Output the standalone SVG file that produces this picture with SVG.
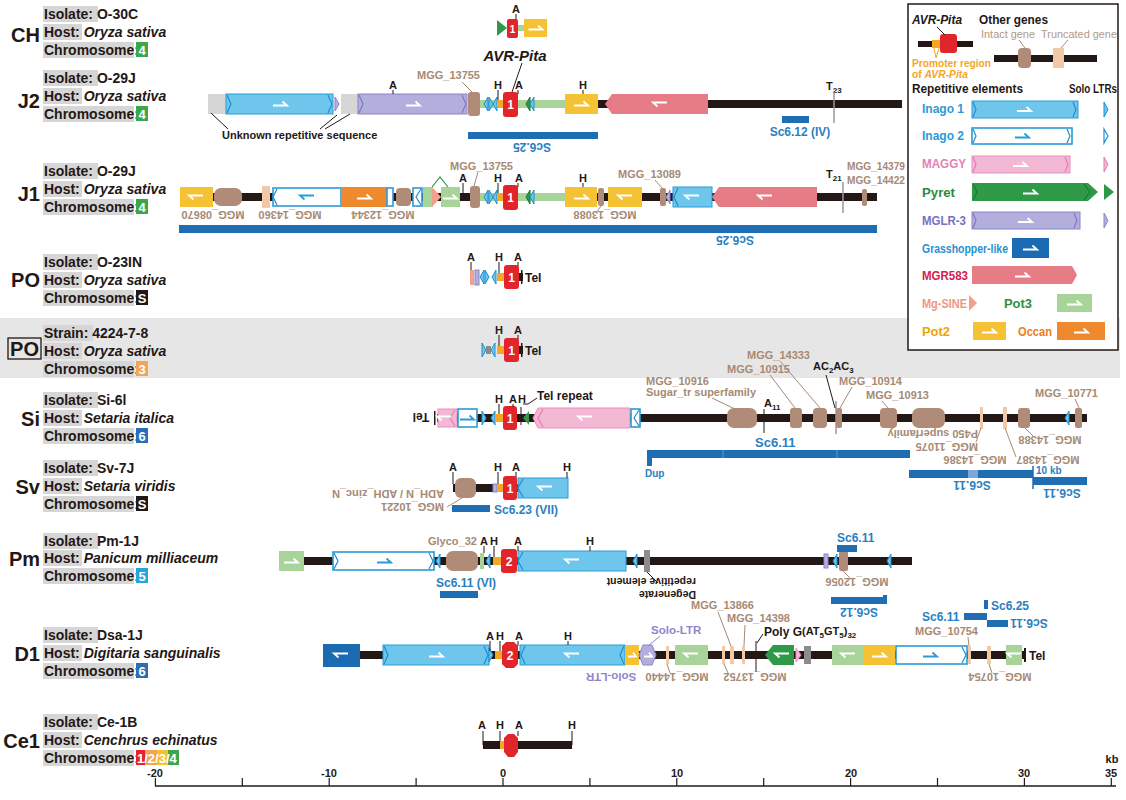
<svg xmlns="http://www.w3.org/2000/svg" width="1126" height="800" viewBox="0 0 1126 800">
<style>
text{font-family:"Liberation Sans",Arial,sans-serif}
.lab{font-size:14px;font-weight:bold;fill:#231815}
.hl{fill:#d6d6d6}
.row{font-size:20px;font-weight:bold;fill:#231815;text-anchor:end}
.k{font-size:11px;font-weight:bold;fill:#231815}
.km{font-size:11px;font-weight:bold;fill:#231815;text-anchor:middle}
.g{font-size:11px;font-weight:bold;fill:#a68a74}
.gm{font-size:11px;font-weight:bold;fill:#a68a74;text-anchor:middle}
.s{font-size:12px;font-weight:bold;fill:#2a7fc2}
.sm{font-size:12px;font-weight:bold;fill:#2a7fc2;text-anchor:middle}
.lg-t{font-size:12px;font-weight:bold}
.ln{fill:#231815}
.i1{fill:#6ec6ec;stroke:#2b9ad6;stroke-width:1}
.i2{fill:#fff;stroke:#2b9ad6;stroke-width:1.6}
.mg{fill:#f2b8d4;stroke:#ea8fbf;stroke-width:1}
.py{fill:#2e9a48}
.ml{fill:#b2afdc;stroke:#8a84c8;stroke-width:1}
.gh{fill:#1b6bb3}
.mr{fill:#e57c86}
.ms{fill:#f1a08a}
.p3{fill:#a8d49a}
.p2{fill:#f4c232}
.oc{fill:#ee8a2d}
.gi{fill:#b08c78}
.gt{fill:#f2c9a7}
.gy{fill:#d6d6d6}
.dg{fill:#8c8c8c}
.av{fill:#e2242b}
.pr{fill:#f5a623}
.bar{fill:#1f6db3}
.ch{fill:none;stroke:#1e8fd0;stroke-width:1.2}
.chm{fill:none;stroke:#7f78c2;stroke-width:1.2}
.chp{fill:none;stroke:#e27fb3;stroke-width:1.2}
.lt{fill:#6ec6ec;stroke:#1e8fd0;stroke-width:1}
.ltg{fill:#2e9a48;stroke:#1f7a35;stroke-width:1}
.lk{stroke:#231815;stroke-width:1;fill:none}
.lg{stroke:#a68a74;stroke-width:1;fill:none}
.lgy{stroke:#9a9a9a;stroke-width:1.5;fill:none}
.wa{fill:none;stroke:#fff;stroke-width:1.8}
.ba{fill:none;stroke:#2b9ad6;stroke-width:1.8}
.num{font-size:12px;font-weight:bold;fill:#fff;text-anchor:middle}
.cn{font-size:13px;font-weight:bold;fill:#fff;text-anchor:middle}
</style>
<defs>
<path id="ar" d="M-7,1.5H7L2.5,-2.5"/>
<path id="al" d="M7,-1.5H-7L-2.5,2.5"/>
<path id="tl" d="M4,-7L0,0L4,7Z"/>
<path id="tr" d="M0,-7L4,0L0,7Z"/>
</defs>

<rect x="0" y="318" width="1120" height="60" fill="#e6e6e6"/>

<!-- ============ left labels ============ -->
<g id="lab-CH">
<text class="row" x="40" y="42">CH</text>
<rect class="hl" x="43" y="6" width="55" height="16"/><text class="lab" x="44" y="19">Isolate: O-30C</text>
<rect class="hl" x="43" y="24" width="39" height="16"/><text class="lab" x="44" y="37">Host: <tspan font-style="italic">Oryza sativa</tspan></text>
<rect class="hl" x="43" y="42" width="91" height="16"/><text class="lab" x="44" y="55">Chromosome:</text>
<rect x="136" y="42" width="12" height="15" fill="#3aa84a"/><text class="cn" x="142" y="55">4</text>
</g>
<g id="lab-J2">
<text class="row" x="40" y="108">J2</text>
<rect class="hl" x="43" y="70" width="55" height="16"/><text class="lab" x="44" y="83">Isolate: O-29J</text>
<rect class="hl" x="43" y="88" width="39" height="16"/><text class="lab" x="44" y="101">Host: <tspan font-style="italic">Oryza sativa</tspan></text>
<rect class="hl" x="43" y="106" width="91" height="16"/><text class="lab" x="44" y="119">Chromosome:</text>
<rect x="136" y="106" width="12" height="15" fill="#3aa84a"/><text class="cn" x="142" y="119">4</text>
</g>
<g id="lab-J1">
<text class="row" x="40" y="201">J1</text>
<rect class="hl" x="43" y="163" width="55" height="16"/><text class="lab" x="44" y="176">Isolate: O-29J</text>
<rect class="hl" x="43" y="181" width="39" height="16"/><text class="lab" x="44" y="194">Host: <tspan font-style="italic">Oryza sativa</tspan></text>
<rect class="hl" x="43" y="199" width="91" height="16"/><text class="lab" x="44" y="212">Chromosome:</text>
<rect x="136" y="199" width="12" height="15" fill="#3aa84a"/><text class="cn" x="142" y="212">4</text>
</g>
<g id="lab-PO1">
<text class="row" x="40" y="287">PO</text>
<rect class="hl" x="43" y="254" width="55" height="16"/><text class="lab" x="44" y="267">Isolate: O-23IN</text>
<rect class="hl" x="43" y="272" width="39" height="16"/><text class="lab" x="44" y="285">Host: <tspan font-style="italic">Oryza sativa</tspan></text>
<rect class="hl" x="43" y="290" width="91" height="16"/><text class="lab" x="44" y="303">Chromosome:</text>
<rect x="136" y="290" width="12" height="15" fill="#231815"/><text class="cn" x="142" y="303">S</text>
</g>
<g id="lab-PO2">
<rect x="8" y="338" width="33" height="21" fill="none" stroke="#231815" stroke-width="1.3"/>
<text class="row" x="39" y="356">PO</text>
<rect class="hl" x="43" y="325" width="50" height="16"/><text class="lab" x="44" y="338">Strain: 4224-7-8</text>
<rect class="hl" x="43" y="343" width="39" height="16"/><text class="lab" x="44" y="356">Host: <tspan font-style="italic">Oryza sativa</tspan></text>
<rect class="hl" x="43" y="361" width="91" height="16"/><text class="lab" x="44" y="374">Chromosome:</text>
<rect x="136" y="361" width="12" height="15" fill="#f2a553"/><text class="cn" x="142" y="374">3</text>
</g>
<g id="lab-Si">
<text class="row" x="40" y="426">Si</text>
<rect class="hl" x="43" y="392" width="55" height="16"/><text class="lab" x="44" y="405">Isolate: Si-6l</text>
<rect class="hl" x="43" y="410" width="39" height="16"/><text class="lab" x="44" y="423">Host: <tspan font-style="italic">Setaria italica</tspan></text>
<rect class="hl" x="43" y="428" width="91" height="16"/><text class="lab" x="44" y="441">Chromosome:</text>
<rect x="136" y="428" width="12" height="15" fill="#2a6fb5"/><text class="cn" x="142" y="441">6</text>
</g>
<g id="lab-Sv">
<text class="row" x="40" y="494">Sv</text>
<rect class="hl" x="43" y="460" width="55" height="16"/><text class="lab" x="44" y="473">Isolate: Sv-7J</text>
<rect class="hl" x="43" y="478" width="39" height="16"/><text class="lab" x="44" y="491">Host: <tspan font-style="italic">Setaria viridis</tspan></text>
<rect class="hl" x="43" y="496" width="91" height="16"/><text class="lab" x="44" y="509">Chromosome:</text>
<rect x="136" y="496" width="12" height="15" fill="#231815"/><text class="cn" x="142" y="509">S</text>
</g>
<g id="lab-Pm">
<text class="row" x="40" y="566">Pm</text>
<rect class="hl" x="43" y="533" width="55" height="16"/><text class="lab" x="44" y="546">Isolate: Pm-1J</text>
<rect class="hl" x="43" y="550" width="39" height="16"/><text class="lab" x="44" y="563">Host: <tspan font-style="italic">Panicum milliaceum</tspan></text>
<rect class="hl" x="43" y="568" width="91" height="16"/><text class="lab" x="44" y="581">Chromosome:</text>
<rect x="136" y="568" width="12" height="15" fill="#29a3dc"/><text class="cn" x="142" y="581">5</text>
</g>
<g id="lab-D1">
<text class="row" x="40" y="661">D1</text>
<rect class="hl" x="43" y="627" width="55" height="16"/><text class="lab" x="44" y="640">Isolate: Dsa-1J</text>
<rect class="hl" x="43" y="645" width="39" height="16"/><text class="lab" x="44" y="658">Host: <tspan font-style="italic">Digitaria sanguinalis</tspan></text>
<rect class="hl" x="43" y="663" width="91" height="16"/><text class="lab" x="44" y="676">Chromosome:</text>
<rect x="136" y="663" width="12" height="15" fill="#2a6fb5"/><text class="cn" x="142" y="676">6</text>
</g>
<g id="lab-Ce1">
<text class="row" x="40" y="748">Ce1</text>
<rect class="hl" x="43" y="714" width="55" height="16"/><text class="lab" x="44" y="727">Isolate: Ce-1B</text>
<rect class="hl" x="43" y="732" width="39" height="16"/><text class="lab" x="44" y="745">Host: <tspan font-style="italic">Cenchrus echinatus</tspan></text>
<rect class="hl" x="43" y="750" width="91" height="16"/><text class="lab" x="44" y="763">Chromosome:</text>
<rect x="136" y="750" width="9" height="15" fill="#e2242b"/>
<rect x="145" y="750" width="12" height="15" fill="#f2a553"/>
<rect x="157" y="750" width="11" height="15" fill="#f4c232"/>
<rect x="168" y="750" width="11" height="15" fill="#3aa84a"/>
<text x="137" y="763" style="font-size:13px;font-weight:bold;fill:#fff">1/2/3/4</text>
</g>

<!-- ============ CH ============ -->
<g id="row-CH">
<rect class="p3" x="517" y="25" width="8" height="6"/>
<polygon class="py" points="497,20 507,28 497,36"/>
<rect class="av" x="507" y="19" width="11" height="19" rx="2"/>
<text class="num" x="512.5" y="33" style="font-size:10px">1</text>
<rect class="p2" x="524" y="19" width="23" height="18"/>
<use href="#ar" class="wa" x="535.5" y="28"/>
<line class="lk" x1="516" y1="14" x2="516" y2="19"/>
<text class="km" x="516" y="13">A</text>
<text x="515" y="61" text-anchor="middle" style="font-size:15px;font-weight:bold;font-style:italic;fill:#231815">AVR-Pita</text>
</g>

<!-- ============ J2 ============ -->
<g id="row-J2">
<rect class="ln" x="598" y="100" width="304" height="8"/>
<rect class="gy" x="208" y="94" width="18" height="20"/>
<rect class="i1" x="226" y="94" width="107" height="20"/>
<path class="ch" d="M227,95l4,9l-4,9M328,95l4,9l-4,9"/>
<use href="#ar" class="wa" x="280" y="104"/>
<use href="#tr" class="ml" x="335" y="104"/>
<rect class="gy" x="341" y="94" width="17" height="20"/>
<rect class="ml" x="358" y="94" width="109" height="20"/>
<path class="chm" d="M359,95l4,9l-4,9M462,95l4,9l-4,9"/>
<use href="#ar" class="wa" x="413" y="104"/>
<rect class="gi" x="468" y="92" width="12" height="24" rx="3"/>
<rect class="p3" x="480" y="100" width="85" height="8"/>
<use href="#tl" class="lt" x="484" y="104"/>
<use href="#tr" class="lt" x="489" y="104"/>
<use href="#tl" class="lt" x="493" y="104"/>
<rect class="pr" x="497" y="100" width="7" height="8"/>
<rect class="av" x="503" y="92" width="15" height="25" rx="3"/>
<text class="num" x="510.5" y="109">1</text>
<use href="#tl" class="ltg" x="526" y="104"/>
<use href="#tl" class="lt" x="530" y="104"/>
<rect class="p2" x="565" y="94" width="33" height="20"/>
<use href="#ar" class="wa" x="581" y="104"/>
<polygon class="mr" points="605,104 612,94 708,94 708,114 612,114"/>
<use href="#al" class="wa" x="660" y="104"/>
<text class="km" x="393" y="89">A</text><line class="lk" x1="393" y1="90" x2="393" y2="94"/>
<text class="km" x="498" y="89">H</text><line class="lk" x1="498" y1="90" x2="498" y2="100"/>
<text class="km" x="519" y="89">A</text><line class="lk" x1="518" y1="90" x2="518" y2="94"/>
<text class="km" x="583" y="89">H</text><line class="lk" x1="583" y1="90" x2="583" y2="94"/>
<text class="g" x="417" y="79">MGG_13755</text><line class="lg" x1="462" y1="82" x2="472" y2="92"/>
<line class="lk" x1="522" y1="63" x2="512" y2="92"/>
<text class="k" x="826" y="90">T<tspan font-size="8" dy="3">23</tspan></text>
<line class="lgy" x1="834" y1="92" x2="834" y2="123"/>
<rect class="bar" x="782" y="116" width="27" height="7"/>
<text class="sm" x="800" y="136">Sc6.12 (IV)</text>
<rect class="bar" x="468" y="132" width="130" height="7"/>
<text class="sm" transform="translate(532,143) rotate(180)">Sc6.25</text>
<text class="k" x="222" y="139">Unknown repetitive sequence</text>
<path class="lk" d="M228,129L211,113M320,129L337,115M325,129L350,114" stroke="#555"/>
</g>

<!-- ============ J1 ============ -->
<g id="row-J1">
<rect class="ln" x="180" y="193" width="697" height="8"/>
<rect class="p2" x="180" y="187" width="33" height="20"/>
<use href="#al" class="wa" x="196" y="197"/>
<rect class="gi" x="214" y="188" width="28" height="18" rx="7"/>
<rect class="gt" x="262" y="186" width="8" height="22"/>
<rect class="i2" x="273" y="188" width="68" height="18"/>
<path class="ch" d="M277,189l-4,8l4,8"/>
<use href="#al" class="ba" x="307" y="197"/>
<rect class="oc" x="341" y="187" width="46" height="20"/>
<use href="#ar" class="wa" x="364" y="197"/>
<rect class="i2" x="387" y="188" width="6" height="18"/>
<rect class="gi" x="396" y="188" width="15" height="18" rx="4"/>
<rect class="i2" x="413" y="188" width="9" height="18"/>
<path class="ch" d="M421,189l-5,8l5,8"/>
<rect class="p3" x="423" y="187" width="10" height="20"/>
<polygon class="ms" points="432,187 441,197 432,207"/>
<rect class="p3" x="441" y="187" width="19" height="20"/>
<use href="#ar" class="wa" x="450" y="197"/>
<polyline points="432,187 440,177 448,187" fill="none" stroke="#2e9a48" stroke-width="1.2"/>
<rect class="gi" x="470" y="186" width="10" height="22" rx="3"/>
<rect class="p3" x="480" y="193" width="85" height="8"/>
<use href="#tl" class="lt" x="484" y="197"/>
<use href="#tr" class="lt" x="489" y="197"/>
<use href="#tl" class="lt" x="493" y="197"/>
<rect class="pr" x="497" y="193" width="7" height="8"/>
<rect class="av" x="503" y="185" width="15" height="25" rx="3"/>
<text class="num" x="510.5" y="202">1</text>
<use href="#tl" class="ltg" x="526" y="197"/>
<use href="#tl" class="lt" x="530" y="197"/>
<rect class="p2" x="565" y="187" width="32" height="20"/>
<use href="#ar" class="wa" x="581" y="197"/>
<rect class="gi" x="598" y="188" width="6" height="18" rx="2"/>
<rect class="p2" x="608" y="187" width="34" height="20"/>
<use href="#al" class="wa" x="625" y="197"/>
<rect class="gi" x="660" y="188" width="6" height="18" rx="2"/>
<use href="#tl" class="ml" x="666" y="197"/>
<rect class="i1" x="673" y="187" width="39" height="20"/>
<path class="ch" d="M678,188l-4,9l4,9"/>
<use href="#al" class="wa" x="692" y="197"/>
<polygon class="mr" points="712,197 719,187 817,187 817,207 719,207"/>
<use href="#al" class="wa" x="765" y="197"/>
<rect class="gi" x="862" y="189" width="5" height="17" rx="2"/>
<text class="km" x="463" y="182">A</text><line class="lk" x1="463" y1="183" x2="463" y2="193"/>
<text class="km" x="498" y="182">H</text><line class="lk" x1="498" y1="183" x2="498" y2="193"/>
<text class="km" x="519" y="182">A</text><line class="lk" x1="518" y1="183" x2="518" y2="187"/>
<text class="km" x="583" y="182">H</text><line class="lk" x1="583" y1="183" x2="583" y2="187"/>
<text class="g" x="450" y="170">MGG_13755</text><line class="lg" x1="478" y1="172" x2="474" y2="186"/>
<text class="g" x="618" y="178">MGG_13089</text><line class="lg" x1="655" y1="180" x2="662" y2="188"/>
<text class="k" x="826" y="178">T<tspan font-size="8" dy="3">21</tspan></text>
<line class="lgy" x1="843" y1="182" x2="843" y2="213"/>
<text class="g" x="847" y="170" textLength="58" lengthAdjust="spacingAndGlyphs">MGG_14379</text>
<text class="g" x="847" y="184" textLength="58" lengthAdjust="spacingAndGlyphs">MGG_14422</text>
<text class="gm" transform="translate(213,211) rotate(180)">MGG_08670</text>
<text class="gm" transform="translate(290,211) rotate(180)">MGG_14360</text>
<text class="gm" transform="translate(383,211) rotate(180)">MGG_12344</text>
<text class="gm" transform="translate(605,211) rotate(180)">MGG_13088</text>
<line class="lg" x1="601" y1="206" x2="596" y2="213"/>
<rect class="bar" x="179" y="225" width="698" height="8"/>
<text class="sm" transform="translate(735,236) rotate(180)">Sc6.25</text>
</g>

<!-- ============ PO (O-23IN) ============ -->
<g id="row-PO1">
<rect class="ms" x="470" y="270" width="4" height="15"/>
<rect class="ml" x="475" y="270" width="4" height="15"/>
<use href="#tl" class="lt" x="480" y="277"/>
<use href="#tr" class="lt" x="485" y="277"/>
<use href="#tl" class="lt" x="492" y="277"/>
<rect class="pr" x="497" y="273" width="7" height="8"/>
<rect class="av" x="504" y="265" width="15" height="24" rx="3"/>
<text class="num" x="511.5" y="282">1</text>
<rect class="ln" x="519" y="273" width="4" height="8"/>
<rect class="ln" x="521" y="270" width="1.5" height="14"/>
<text class="k" x="525" y="282" style="font-size:12px">Tel</text>
<text class="km" x="471" y="261">A</text><line class="lk" x1="471" y1="262" x2="471" y2="270"/>
<text class="km" x="499" y="261">H</text><line class="lk" x1="499" y1="262" x2="499" y2="273"/>
<text class="km" x="518" y="261">A</text><line class="lk" x1="518" y1="262" x2="518" y2="266"/>
</g>

<!-- ============ PO strain ============ -->
<g id="row-PO2">
<use href="#tr" class="lt" x="482" y="350"/>
<rect class="dg" x="486" y="346" width="5" height="8"/>
<use href="#tl" class="lt" x="491" y="350"/>
<rect class="pr" x="497" y="346" width="7" height="8"/>
<rect class="av" x="504" y="338" width="15" height="24" rx="3"/>
<text class="num" x="511.5" y="355">1</text>
<rect class="ln" x="519" y="346" width="4" height="8"/>
<rect class="ln" x="521" y="343" width="1.5" height="14"/>
<text class="k" x="525" y="355" style="font-size:12px">Tel</text>
<text class="km" x="499" y="334">H</text><line class="lk" x1="499" y1="335" x2="499" y2="346"/>
<text class="km" x="518" y="334">A</text><line class="lk" x1="518" y1="335" x2="518" y2="339"/>
</g>

<!-- ============ Si ============ -->
<g id="row-Si">
<rect class="ln" x="437" y="414" width="650" height="8"/>
<rect class="ln" x="434" y="411" width="1.5" height="14"/>
<text class="k" transform="translate(421,413) rotate(180)" text-anchor="middle" style="font-size:12px">Tel</text>
<rect class="mg" x="438" y="409" width="19" height="18"/>
<path class="chp" d="M455,410l-5,8l5,8"/>
<use href="#al" class="wa" x="444" y="418"/>
<rect class="i2" x="458" y="409" width="19" height="18"/>
<use href="#ar" class="ba" x="467" y="418"/>
<use href="#tr" class="lt" x="482" y="418"/>
<use href="#tl" class="lt" x="491" y="418"/>
<rect class="pr" x="495" y="414" width="8" height="8"/>
<rect class="av" x="503" y="406" width="14" height="24" rx="3"/>
<text class="num" x="510" y="423">1</text>
<line class="lk" x1="521" y1="407" x2="521" y2="425" stroke-width="1.5"/>
<polygon class="py" points="529,411 523,418 529,425"/>
<polygon class="mg" points="533,418 538,408 630,408 630,428 538,428"/>
<path class="chp" d="M543,409l-5,9l5,9"/>
<use href="#al" class="wa" x="585" y="418"/>
<rect class="i2" x="631" y="409" width="9" height="18"/>
<path class="ch" d="M639,410l-5,8l5,8"/>
<rect class="gi" x="727" y="408" width="30" height="20" rx="7"/>
<rect class="gi" x="790" y="408" width="12" height="20" rx="3"/>
<rect class="gi" x="813" y="408" width="14" height="20" rx="4"/>
<line class="lgy" x1="836" y1="401" x2="836" y2="434"/>
<rect class="gi" x="836" y="408" width="6" height="20" rx="2"/>
<rect class="gi" x="880" y="408" width="17" height="20" rx="4"/>
<rect class="gi" x="912" y="408" width="33" height="20" rx="7"/>
<rect class="gt" x="980" y="407" width="3" height="22"/>
<rect class="gt" x="1003" y="407" width="4" height="22"/>
<rect class="gi" x="1018" y="408" width="12" height="20" rx="3"/>
<use href="#tl" class="lt" x="1065" y="418"/>
<rect class="gi" x="1075" y="408" width="7" height="20" rx="2"/>
<text class="km" x="499" y="403">H</text><line class="lk" x1="499" y1="404" x2="499" y2="414"/>
<text class="km" x="513" y="403">A</text><line class="lk" x1="513" y1="404" x2="513" y2="407"/>
<text class="km" x="522" y="403">H</text>
<text class="k" x="537" y="400" style="font-size:12px">Tel repeat</text>
<path class="lk" d="M537,398L528,404H523"/>
<text class="k" x="764" y="407">A<tspan font-size="8" dy="3">11</tspan></text>
<line class="lk" x1="764" y1="409" x2="764" y2="433"/>
<text class="g" x="646" y="385">MGG_10916</text>
<text class="g" x="646" y="396">Sugar_tr superfamily</text>
<line class="lg" x1="712" y1="398" x2="735" y2="409"/>
<text class="g" x="747" y="359">MGG_14333</text><line class="lg" x1="780" y1="361" x2="820" y2="408"/>
<text class="g" x="727" y="373">MGG_10915</text><line class="lg" x1="770" y1="375" x2="795" y2="408"/>
<text class="k" x="813" y="370">AC<tspan font-size="8" dy="3">2</tspan><tspan dy="-3">AC</tspan><tspan font-size="8" dy="3">3</tspan></text>
<line class="lk" x1="826" y1="375" x2="835" y2="408"/>
<text class="g" x="839" y="385">MGG_10914</text><line class="lg" x1="852" y1="387" x2="840" y2="408"/>
<text class="g" x="866" y="399">MGG_10913</text><line class="lg" x1="882" y1="401" x2="888" y2="408"/>
<text class="g" x="1035" y="397">MGG_10771</text><line class="lg" x1="1075" y1="399" x2="1079" y2="408"/>
<text class="g" transform="translate(978,443) rotate(180)">MGG_11075<tspan x="0" dy="13">P450 superfamily</tspan></text>
<line class="lg" x1="981" y1="428" x2="976" y2="442"/>
<text class="gm" transform="translate(975,456) rotate(180)">MGG_14386</text>
<text class="gm" transform="translate(1048,456) rotate(180)">MGG_14387</text>
<line class="lg" x1="1005" y1="428" x2="1016" y2="457"/>
<text class="gm" transform="translate(1050,436) rotate(180)">MGG_14388</text>
<line class="lg" x1="1025" y1="428" x2="1034" y2="437"/>
<text class="s" x="755" y="447" style="font-size:13px">Sc6.11</text>
<rect class="bar" x="647" y="450" width="263" height="8"/>
<path d="M723,450v8M837,450v8" stroke="#5d98d4" stroke-width="1"/>
<rect class="bar" x="647" y="458" width="5" height="8"/>
<text class="s" x="645" y="477" style="font-size:10px">Dup</text>
<rect class="bar" x="909" y="470" width="124" height="8"/>
<rect x="968" y="470" width="10" height="8" fill="#7fa6d8"/>
<text class="sm" transform="translate(972,481) rotate(180)">Sc6.11</text>
<rect class="bar" x="1033" y="477" width="54" height="8"/>
<line x1="1033" y1="466" x2="1033" y2="489" stroke="#1f6db3" stroke-width="1.5"/>
<text class="s" x="1036" y="474" style="font-size:10px">10 kb</text>
<text class="sm" transform="translate(1062,489) rotate(180)">Sc6.11</text>
</g>

<!-- ============ Sv ============ -->
<g id="row-Sv">
<rect class="ln" x="453" y="484" width="65" height="8"/>
<rect class="gi" x="455" y="478" width="21" height="20" rx="6"/>
<rect class="ml" x="493" y="484" width="4" height="8"/>
<rect class="pr" x="497" y="484" width="7" height="8"/>
<rect class="av" x="503" y="476" width="14" height="24" rx="3"/>
<text class="num" x="510" y="493">1</text>
<rect class="i1" x="518" y="478" width="50" height="20"/>
<path class="ch" d="M523,479l-5,9l5,9"/>
<use href="#al" class="wa" x="545" y="488"/>
<text class="km" x="453" y="471">A</text><line class="lk" x1="453" y1="472" x2="453" y2="484"/>
<text class="km" x="498" y="471">H</text><line class="lk" x1="498" y1="472" x2="498" y2="484"/>
<text class="km" x="516" y="471">A</text><line class="lk" x1="516" y1="472" x2="516" y2="477"/>
<text class="km" x="567" y="471">H</text><line class="lk" x1="567" y1="472" x2="567" y2="478"/>
<text class="g" transform="translate(444,503) rotate(180)">MGG_10221<tspan x="0" dy="13">ADH_N / ADH_zinc_N</tspan></text>
<line class="lg" x1="462" y1="498" x2="447" y2="507"/>
<rect class="bar" x="452" y="505" width="38" height="7"/>
<text class="s" x="494" y="514">Sc6.23 (VII)</text>
</g>

<!-- ============ Pm ============ -->
<g id="row-Pm">
<rect class="ln" x="304" y="557" width="608" height="8"/>
<rect class="p3" x="279" y="551" width="25" height="20"/>
<use href="#ar" class="wa" x="291" y="561"/>
<rect class="i2" x="333" y="552" width="101" height="18"/>
<path class="ch" d="M334,553l4,8l-4,8M429,553l4,8l-4,8"/>
<use href="#ar" class="ba" x="384" y="561"/>
<use href="#tl" class="lt" x="436" y="561"/>
<rect class="gi" x="446" y="551" width="32" height="20" rx="7"/>
<rect class="p3" x="480" y="553" width="4" height="16"/>
<use href="#tl" class="lt" x="486" y="561"/>
<rect class="pr" x="493" y="557" width="8" height="8"/>
<rect class="av" x="501" y="549" width="16" height="24" rx="3"/>
<text class="num" x="509" y="566">2</text>
<rect class="i1" x="518" y="551" width="108" height="20"/>
<path class="ch" d="M523,552l-5,9l5,9"/>
<use href="#al" class="wa" x="572" y="561"/>
<use href="#tl" class="lt" x="633" y="561"/>
<rect class="dg" x="644" y="550" width="6" height="22"/>
<rect class="ml" x="824" y="554" width="4" height="14"/>
<use href="#tl" class="lt" x="833" y="561"/>
<rect class="gi" x="839" y="551" width="9" height="20" rx="2"/>
<use href="#tl" class="lt" x="887" y="561"/>
<text class="g" x="428" y="545">Glyco_32</text>
<text class="km" x="484" y="545">A</text><line class="lk" x1="484" y1="546" x2="484" y2="553"/>
<text class="km" x="494" y="545">H</text><line class="lk" x1="494" y1="546" x2="494" y2="557"/>
<text class="km" x="518" y="545">A</text><line class="lk" x1="518" y1="546" x2="518" y2="551"/>
<text class="km" x="590" y="545">H</text><line class="lk" x1="590" y1="546" x2="590" y2="551"/>
<text class="s" x="436" y="587">Sc6.11 (VI)</text>
<rect class="bar" x="440" y="591" width="38" height="7"/>
<text class="s" x="837" y="542">Sc6.11</text>
<rect class="bar" x="837" y="545" width="20" height="7"/>
<text class="k" transform="translate(696,591) rotate(180)" style="font-size:10.5px">Degenerate<tspan x="0" dy="13">repetitive element</tspan></text>
<line class="lk" x1="647" y1="572" x2="658" y2="583" stroke="#777"/>
<text class="gm" transform="translate(857,578) rotate(180)">MGG_12056</text>
<line class="lg" x1="843" y1="571" x2="851" y2="579"/>
<rect class="bar" x="831" y="597" width="52" height="7"/>
<rect class="bar" x="883" y="595" width="4" height="9"/>
<text class="sm" transform="translate(859,608) rotate(180)">Sc6.12</text>
</g>

<!-- ============ D1 ============ -->
<g id="row-D1">
<rect class="ln" x="360" y="651" width="665" height="8"/>
<rect class="gh" x="323" y="644" width="37" height="23"/>
<use href="#al" class="wa" x="341" y="655"/>
<rect class="i1" x="383" y="645" width="106" height="20"/>
<path class="ch" d="M384,646l4,9l-4,9M484,646l4,9l-4,9"/>
<use href="#ar" class="wa" x="436" y="655"/>
<use href="#tr" class="lt" x="489" y="655"/>
<rect class="pr" x="495" y="651" width="7" height="8"/>
<polygon class="av" points="502,646 506,642 514,642 518,646 518,664 514,668 506,668 502,664"/>
<text class="num" x="510" y="660">2</text>
<rect class="i1" x="520" y="645" width="105" height="20"/>
<path class="ch" d="M525,646l-4,9l4,9M624,646l-4,9l4,9"/>
<use href="#al" class="wa" x="572" y="655"/>
<rect class="p2" x="625" y="645" width="14" height="20"/>
<path d="M628,656.5h8l-3,-4" class="wa"/>
<polygon class="ml" points="639,655 643,645 652,645 656,655 652,665 643,665"/>
<path d="M644,656.5h8l-3,-4" class="wa"/>
<rect class="gt" x="666" y="646" width="3" height="18"/>
<rect class="p3" x="675" y="645" width="33" height="20"/>
<use href="#al" class="wa" x="691" y="655"/>
<rect class="gt" x="722" y="646" width="3" height="18"/>
<rect class="gt" x="730" y="646" width="4" height="18"/>
<rect class="gt" x="742" y="646" width="3" height="18"/>
<line class="lk" x1="756" y1="641" x2="756" y2="672" stroke-width="1.5"/>
<polygon class="py" points="765,655 773,645 794,645 794,665 773,665"/>
<use href="#al" class="wa" x="782" y="655"/>
<polygon class="mg" points="796,648 801,655 796,662"/>
<rect class="dg" x="804" y="646" width="7" height="18"/>
<rect class="p3" x="832" y="645" width="32" height="20"/>
<use href="#al" class="wa" x="848" y="655"/>
<rect class="p2" x="864" y="645" width="31" height="20"/>
<use href="#ar" class="wa" x="879" y="655"/>
<rect class="i2" x="896" y="646" width="71" height="18"/>
<path class="ch" d="M962,647l4,8l-4,8"/>
<use href="#ar" class="ba" x="930" y="655"/>
<rect class="gt" x="968" y="646" width="3" height="18"/>
<rect class="gt" x="987" y="646" width="4" height="18"/>
<rect class="p3" x="1006" y="645" width="16" height="20"/>
<use href="#al" class="wa" x="1014" y="655"/>
<rect class="ln" x="1024" y="648" width="2" height="14"/>
<text class="k" x="1029" y="660" style="font-size:12px">Tel</text>
<text class="km" x="490" y="640">A</text><line class="lk" x1="490" y1="641" x2="490" y2="651"/>
<text class="km" x="500" y="640">H</text><line class="lk" x1="500" y1="641" x2="500" y2="651"/>
<text class="km" x="519" y="640">A</text><line class="lk" x1="518" y1="641" x2="518" y2="646"/>
<text class="km" x="568" y="640">H</text><line class="lk" x1="568" y1="641" x2="568" y2="645"/>
<text x="651" y="634" style="font-size:11.5px;font-weight:bold;fill:#8f86c9">Solo-LTR</text>
<line x1="660" y1="636" x2="648" y2="646" stroke="#8f86c9" stroke-width="1"/>
<text class="g" x="691" y="609">MGG_13866</text><line class="lg" x1="718" y1="612" x2="731" y2="646"/>
<text class="g" x="727" y="622">MGG_14398</text><line class="lg" x1="745" y1="625" x2="744" y2="646"/>
<text class="k" x="764" y="636" style="font-size:12px">Poly G</text><line class="lk" x1="763" y1="634" x2="757" y2="643"/>
<text class="k" x="802" y="635">(AT<tspan font-size="8" dy="3">5</tspan><tspan dy="-3">GT</tspan><tspan font-size="8" dy="3">5</tspan><tspan dy="-3">)</tspan><tspan font-size="8" dy="3">32</tspan></text>
<text class="g" x="915" y="635">MGG_10754</text><line class="lg" x1="968" y1="637" x2="969" y2="646"/>
<text transform="translate(611,673) rotate(180)" text-anchor="middle" style="font-size:11.5px;font-weight:bold;fill:#8f86c9">Solo-LTR</text>
<text class="gm" transform="translate(677,673) rotate(180)">MGG_14440</text>
<line class="lg" x1="667" y1="664" x2="670" y2="673"/>
<text class="gm" transform="translate(755,673) rotate(180)">MGG_13752</text>
<line class="lg" x1="724" y1="664" x2="728" y2="673"/>
<text class="gm" transform="translate(1000,673) rotate(180)">MGG_10754</text>
<line class="lg" x1="989" y1="664" x2="992" y2="673"/>
<text class="s" x="922" y="621">Sc6.11</text>
<rect class="bar" x="964" y="613" width="23" height="7"/>
<rect class="bar" x="984" y="600" width="4" height="9"/>
<text class="s" x="991" y="610">Sc6.25</text>
<rect class="bar" x="987" y="620" width="21" height="7"/>
<text class="sm" transform="translate(1029,619) rotate(180)">Sc6.11</text>
</g>

<!-- ============ Ce1 ============ -->
<g id="row-Ce1">
<rect class="ln" x="483" y="741" width="89" height="8"/>
<rect class="pr" x="500" y="741" width="5" height="8"/>
<polygon class="av" points="504,738 508,734 514,734 518,738 518,752 514,757 508,757 504,752"/>
<line class="lk" x1="483" y1="731" x2="483" y2="745" stroke-width="1.3"/>
<line class="lk" x1="500" y1="731" x2="500" y2="741"/>
<line class="lk" x1="518" y1="731" x2="518" y2="736"/>
<line class="lk" x1="572" y1="731" x2="572" y2="745" stroke-width="1.3"/>
<text class="km" x="482" y="729">A</text>
<text class="km" x="500" y="729">H</text>
<text class="km" x="519" y="729">A</text>
<text class="km" x="572" y="729">H</text>
</g>

<!-- ============ axis ============ -->
<g id="axis">
<line x1="155" y1="786" x2="1116" y2="786" stroke="#231815" stroke-width="1.5"/>
<path d="M155.4,786v-8M242.3,786v-8M329.2,786v-8M416.1,786v-8M503,786v-8M589.9,786v-8M676.8,786v-8M763.7,786v-8M850.6,786v-8M937.5,786v-8M1024.4,786v-8M1111.3,786v-8" stroke="#231815" stroke-width="1.2"/>
<text class="km" x="155" y="777">-20</text>
<text class="km" x="329" y="777">-10</text>
<text class="km" x="503" y="777">0</text>
<text class="km" x="677" y="777">10</text>
<text class="km" x="851" y="777">20</text>
<text class="km" x="1024" y="777">30</text>
<text class="km" x="1111" y="777">35</text>
<text class="km" x="1112" y="763">kb</text>
</g>

<!-- ============ legend ============ -->
<g id="legend">
<rect x="908" y="4" width="210" height="346" fill="#fff" stroke="#231815" stroke-width="1.5"/>
<text class="lg-t" x="912" y="24" font-style="italic" fill="#231815" textLength="50" lengthAdjust="spacingAndGlyphs">AVR-Pita</text>
<text class="lg-t" x="979" y="24" fill="#231815" textLength="69" lengthAdjust="spacingAndGlyphs">Other genes</text>
<rect class="ln" x="918" y="41" width="55" height="6"/>
<rect class="pr" x="932" y="40" width="9" height="8"/>
<rect class="av" x="940" y="34" width="17" height="19" rx="3"/>
<line class="lk" x1="937" y1="27" x2="945" y2="35"/>
<polyline points="934,48 936,58 939,48" fill="none" stroke="#f5a623" stroke-width="1"/>
<text class="lg-t" x="912" y="67" fill="#f5a623" style="font-size:11px" textLength="79" lengthAdjust="spacingAndGlyphs">Promoter region</text>
<text class="lg-t" x="912" y="78" fill="#f5a623" style="font-size:11px" textLength="56" lengthAdjust="spacingAndGlyphs">of <tspan font-style="italic">AVR-Pita</tspan></text>
<text x="981" y="38" style="font-size:11.5px;fill:#b39a85" textLength="54" lengthAdjust="spacingAndGlyphs">Intact gene</text>
<text x="1041" y="38" style="font-size:11.5px;fill:#b39a85" textLength="76" lengthAdjust="spacingAndGlyphs">Truncated gene</text>
<rect class="ln" x="994" y="55" width="103" height="7"/>
<rect class="gi" x="1018" y="48" width="13" height="20" rx="4"/>
<rect class="gt" x="1053" y="48" width="11" height="20"/>
<line class="lg" x1="1019" y1="40" x2="1025" y2="48"/>
<line class="lg" x1="1068" y1="40" x2="1061" y2="48"/>
<text class="lg-t" x="912" y="93" fill="#231815" textLength="111" lengthAdjust="spacingAndGlyphs">Repetitive elements</text>
<text class="lg-t" x="1069" y="93" fill="#231815" textLength="48" lengthAdjust="spacingAndGlyphs">Solo LTRs</text>

<text class="lg-t" x="922" y="113" fill="#2a9bd6" textLength="42" lengthAdjust="spacingAndGlyphs">Inago 1</text>
<rect class="i1" x="972" y="101" width="106" height="17"/>
<path class="ch" d="M973,102l3,7.5l-3,7.5M1073,102l3,7.5l-3,7.5"/>
<use href="#ar" class="wa" x="1024" y="109.5"/>
<polygon class="lt" points="1104,102 1108,109.5 1104,117"/>

<text class="lg-t" x="922" y="140" fill="#2a9bd6" textLength="42" lengthAdjust="spacingAndGlyphs">Inago 2</text>
<rect class="i2" x="972" y="128" width="100" height="16"/>
<path class="ch" d="M973,129l3,7l-3,7M1067,129l3,7l-3,7"/>
<use href="#ar" class="ba" x="1022" y="136"/>
<polygon points="1104,129 1108,136 1104,143" fill="#fff" stroke="#1e8fd0" stroke-width="1.2"/>

<text class="lg-t" x="922" y="168" fill="#e67fb2" textLength="44" lengthAdjust="spacingAndGlyphs">MAGGY</text>
<rect class="mg" x="972" y="156" width="98" height="17"/>
<path class="chp" d="M973,157l3,7.5l-3,7.5M1065,157l3,7.5l-3,7.5"/>
<use href="#ar" class="wa" x="1020" y="164.5"/>
<polygon points="1104,157 1108,164.5 1104,172" fill="#f2b8d4" stroke="#e27fb3" stroke-width="1"/>

<text class="lg-t" x="922" y="197" fill="#2b8a3e" textLength="33" lengthAdjust="spacingAndGlyphs">Pyret</text>
<polygon class="py" points="972,183 1088,183 1098,192 1088,201 972,201"/>
<path d="M973,184l4,8l-4,8M1084,184l6,8l-6,8" fill="none" stroke="#1e6b31" stroke-width="1"/>
<use href="#ar" class="wa" x="1030" y="192"/>
<polygon class="py" points="1104,184 1114,192 1104,200"/>

<text class="lg-t" x="922" y="225" fill="#7a70bf" textLength="44" lengthAdjust="spacingAndGlyphs">MGLR-3</text>
<rect class="ml" x="972" y="212" width="108" height="17"/>
<path class="chm" d="M973,213l3,7.5l-3,7.5M1074,213l3,7.5l-3,7.5"/>
<use href="#ar" class="wa" x="1025" y="220.5"/>
<polygon class="ml" points="1104,213 1108,220.5 1104,228"/>

<text class="lg-t" x="922" y="253" fill="#2a8fd0" textLength="86" lengthAdjust="spacingAndGlyphs">Grasshopper-like</text>
<rect class="gh" x="1012" y="238" width="37" height="20"/>
<use href="#ar" class="wa" x="1030" y="248"/>

<text class="lg-t" x="922" y="280" fill="#d6204b" textLength="46" lengthAdjust="spacingAndGlyphs">MGR583</text>
<polygon class="mr" points="972,266 1072,266 1077,275 1072,284 972,284"/>
<use href="#ar" class="wa" x="1022" y="275"/>

<text class="lg-t" x="922" y="308" fill="#f09880" textLength="45" lengthAdjust="spacingAndGlyphs">Mg-SINE</text>
<polygon class="ms" points="969,295 977,303 969,311"/>
<text class="lg-t" x="1004" y="308" fill="#2f8f3f" textLength="28" lengthAdjust="spacingAndGlyphs">Pot3</text>
<rect class="p3" x="1057" y="294" width="35" height="18"/>
<use href="#ar" class="wa" x="1074" y="303"/>

<text class="lg-t" x="922" y="336" fill="#f0a500" textLength="28" lengthAdjust="spacingAndGlyphs">Pot2</text>
<rect class="p2" x="973" y="322" width="33" height="18"/>
<use href="#ar" class="wa" x="989" y="331"/>
<text class="lg-t" x="1018" y="336" fill="#e98020" textLength="34" lengthAdjust="spacingAndGlyphs">Occan</text>
<rect class="oc" x="1057" y="322" width="48" height="18"/>
<use href="#ar" class="wa" x="1081" y="331"/>
</g>
</svg>
